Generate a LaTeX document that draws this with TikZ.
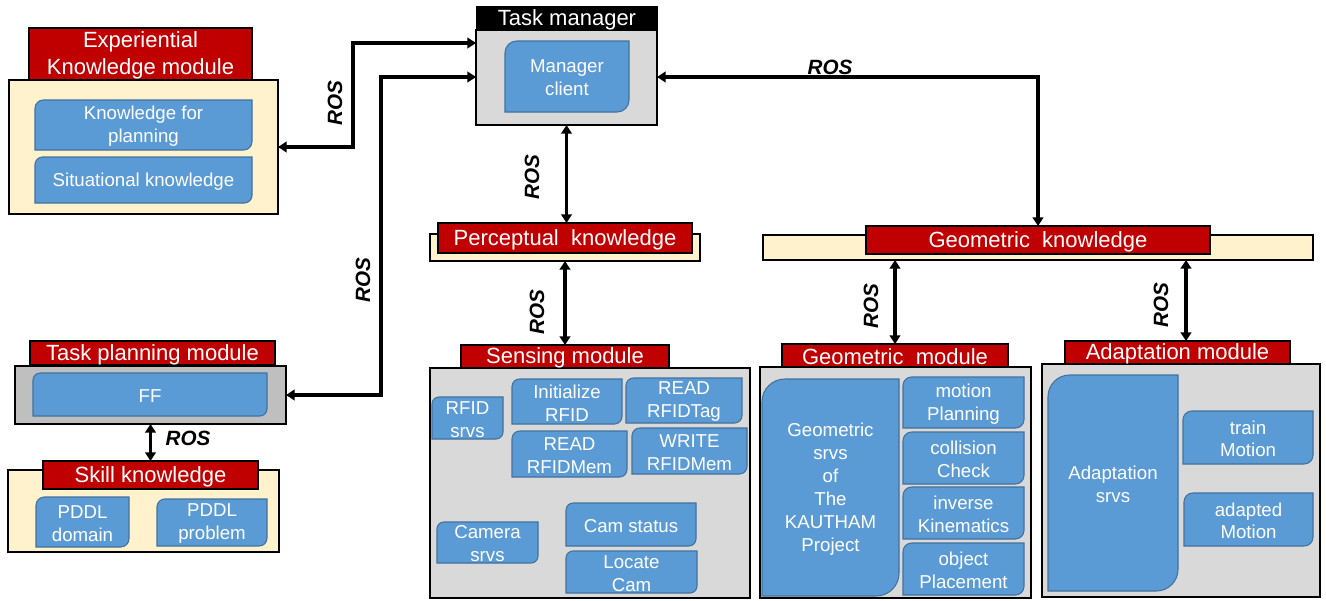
\documentclass[tikz,border=0pt]{standalone}
\usepackage{fontspec}
\setmainfont{Liberation Sans}
\usetikzlibrary{arrows.meta,calc,fit}
\pgfdeclarelayer{bg}\pgfdeclarelayer{mid}\pgfsetlayers{bg,mid,main}
\definecolor{hdrred}{HTML}{C00000}
\definecolor{cream}{HTML}{FFF2CC}
\definecolor{panelgray}{HTML}{D9D9D9}
\definecolor{tpgray}{HTML}{BFBFBF}
\definecolor{bfill}{HTML}{5B9BD5}
\definecolor{bline}{HTML}{41719C}
\tikzset{
 frame/.style={draw=black, line width=1.5pt, inner sep=0pt, outer sep=0pt},
 creambox/.style={frame, fill=cream},
 graybox/.style={frame, fill=panelgray},
 tpbox/.style={frame, fill=tpgray},
 hdrtxt/.style={text=white, font=\fontsize{16.5}{19.8}\selectfont, align=center, inner sep=0pt, yshift=-1pt},
 hdr/.style={frame, fill=hdrred, label={[hdrtxt]center:#1}},
 tmhdr/.style={frame, fill=black, label={[hdrtxt]center:#1}},
 itemtxt/.style={text=white, align=center, font=\fontsize{14}{17.2}\selectfont, inner sep=0pt, yshift=-1pt},
 item/.style={inner sep=0pt, outer sep=0pt, label={[itemtxt]center:#1}},
 bshape/.style={fill=bfill, draw=bline, line width=0.8pt},
 conn/.style={line width=2.4pt, {Triangle[width=8pt,length=6.5pt]}-{Triangle[width=8pt,length=6.5pt]}},
 roslbl/.style={font=\fontsize{15.5}{18}\selectfont\bfseries\itshape, inner sep=0pt},
}
\newcommand\bluediag[1]{%
 \draw[bshape] let \p1=($(#1.north east)-(#1.south west)$), \n1={0.1667*min(\x1,\y1)} in
 ([yshift=-\n1]#1.north west) arc[start angle=180,end angle=90,radius=\n1] -- (#1.north east)
 -- ([yshift=\n1]#1.south east) arc[start angle=0,end angle=-90,radius=\n1] -- (#1.south west) -- cycle;}
\begin{document}
\begin{tikzpicture}[x=0.75pt,y=-0.75pt]
\useasboundingbox (0,0) rectangle (1326,600);
\begin{pgfonlayer}{bg}
\node[creambox, fit={(9,80)(278,214)}] (expb) {};
\node[graybox, fit={(476,30)(657,125)}] (tmb) {};
\node[creambox, fit={(430,234)(700,261)}] (pkb) {};
\node[creambox, fit={(763,235)(1313,260)}] (gkb) {};
\node[tpbox, fit={(15,366)(286,424)}] (tpb) {};
\node[creambox, fit={(8,470)(279,552)}] (skb) {};
\node[graybox, fit={(430,368)(750,598)}] (smb) {};
\node[graybox, fit={(760,367)(1031,598)}] (gmb) {};
\node[graybox, fit={(1042,364)(1320,597)}] (amb) {};
\end{pgfonlayer}
% headers
\node[hdr={Experiential\\Knowledge module}, fit={(29,28)(252,80)}] (exph) {};
\node[tmhdr={Task manager}, fit={(477,7)(657,30)}] (tmh) {};
\node[hdr={Perceptual~~knowledge}, fit={(438,223)(692,253)}] (pkh) {};
\node[hdr={Geometric~~knowledge}, fit={(866,226)(1210,254)}] (gkh) {};
\node[hdr={Task planning module}, fit={(30,341)(275,365)}] (tph) {};
\node[hdr={Skill knowledge}, fit={(43,461)(258,489)}] (skh) {};
\node[hdr={Sensing module}, fit={(461,345)(669,368)}] (smh) {};
\node[hdr={Geometric~~module}, fit={(782,344)(1008,367)}] (gmh) {};
\node[hdr={Adaptation module}, fit={(1065,341)(1290,364)}] (amh) {};
% items
\node[item={Knowledge for\\planning}, fit={(35,100)(252,150)}] (kp) {};
\node[item={Situational knowledge}, fit={(35,157)(252,203)}] (sk) {};
\node[item={Manager\\client}, fit={(505,41)(629,112)}] (mc) {};
\node[item={FF}, fit={(33,373)(267,416)}] (ff) {};
\node[item={PDDL\\domain}, fit={(36,497)(129,547)}] (pd) {};
\node[item={PDDL\\problem}, fit={(157,499)(267,546)}] (pp) {};
\node[item={RFID\\srvs}, fit={(432,397)(503,439)}] (rs) {};
\node[item={Initialize\\RFID}, fit={(512,379)(622,424)}] (ir) {};
\node[item={READ\\RFIDTag}, fit={(626,378)(742,423)}] (rt) {};
\node[item={READ\\RFIDMem}, fit={(512,431)(627,477)}] (rm) {};
\node[item={WRITE\\RFIDMem}, fit={(632,428)(747,474)}] (wm) {};
\node[item={Camera\\srvs}, fit={(437,522)(538,563)}] (cs) {};
\node[item={Cam status}, fit={(566,503)(696,546)}] (cst) {};
\node[item={Locate\\Cam}, fit={(566,551)(697,593)}] (lc) {};
\node[item={Geometric\\srvs\\of\\The\\KAUTHAM\\Project}, fit={(762,379)(899,596)}] (gs) {};
\node[item={motion\\Planning}, fit={(903,377)(1024,428)}] (mp) {};
\node[item={collision\\Check}, fit={(903,432)(1024,484)}] (cc) {};
\node[item={inverse\\Kinematics}, fit={(903,487)(1024,539)}] (ik) {};
\node[item={object\\Placement}, fit={(903,543)(1024,595)}] (op) {};
\node[item={Adaptation\\srvs}, fit={(1048,375)(1178,591)}] (as) {};
\node[item={train\\Motion}, fit={(1183,411)(1313,464)}] (trm) {};
\node[item={adapted\\Motion}, fit={(1184,493)(1313,546)}] (adm) {};
\begin{pgfonlayer}{mid}
\foreach \nm in {kp,sk,mc,ff,pd,pp,rs,ir,rt,rm,wm,cs,cst,lc,gs,mp,cc,ik,op,as,trm,adm} {\bluediag{\nm}}
\end{pgfonlayer}
% connectors
\coordinate (v1) at (353,43);
\coordinate (v2) at (381,77);
\coordinate (v3) at (1038,77);
\coordinate (ax) at (1186,300);
\draw[conn] (expb.east) -- (expb.east -| v1) -- (v1) -- (tmb.west |- v1);
\draw[conn] (tpb.east) -- (tpb.east -| v2) -- (v2) -- (tmb.west |- v2);
\draw[conn] (tmb.east |- v3) -- (v3) -- (gkh.north);
\draw[conn] (tmb.south) -- (tmb.south |- pkh.north);
\draw[conn] (smh.north |- pkb.south) -- (smh.north);
\draw[conn] (gmh.north |- gkb.south) -- (gmh.north);
\draw[conn] (ax |- gkb.south) -- (ax |- amh.north);
\draw[conn] (tpb.south) -- (tpb.south |- skh.north);
% labels
\node[roslbl, rotate=90] (r1) at (335,103) {ROS};
\node[roslbl, rotate=90] (r2) at (363,280) {ROS};
\node[roslbl] (r3) at (830,67) {ROS};
\node[roslbl, rotate=90] (r4) at (532,177) {ROS};
\node[roslbl, rotate=90] (r5) at (537,312) {ROS};
\node[roslbl, rotate=90] (r6) at (871,306) {ROS};
\node[roslbl, rotate=90] (r7) at (1161,305) {ROS};
\node[roslbl] (r8) at (188,438) {ROS};
\end{tikzpicture}
\end{document}
